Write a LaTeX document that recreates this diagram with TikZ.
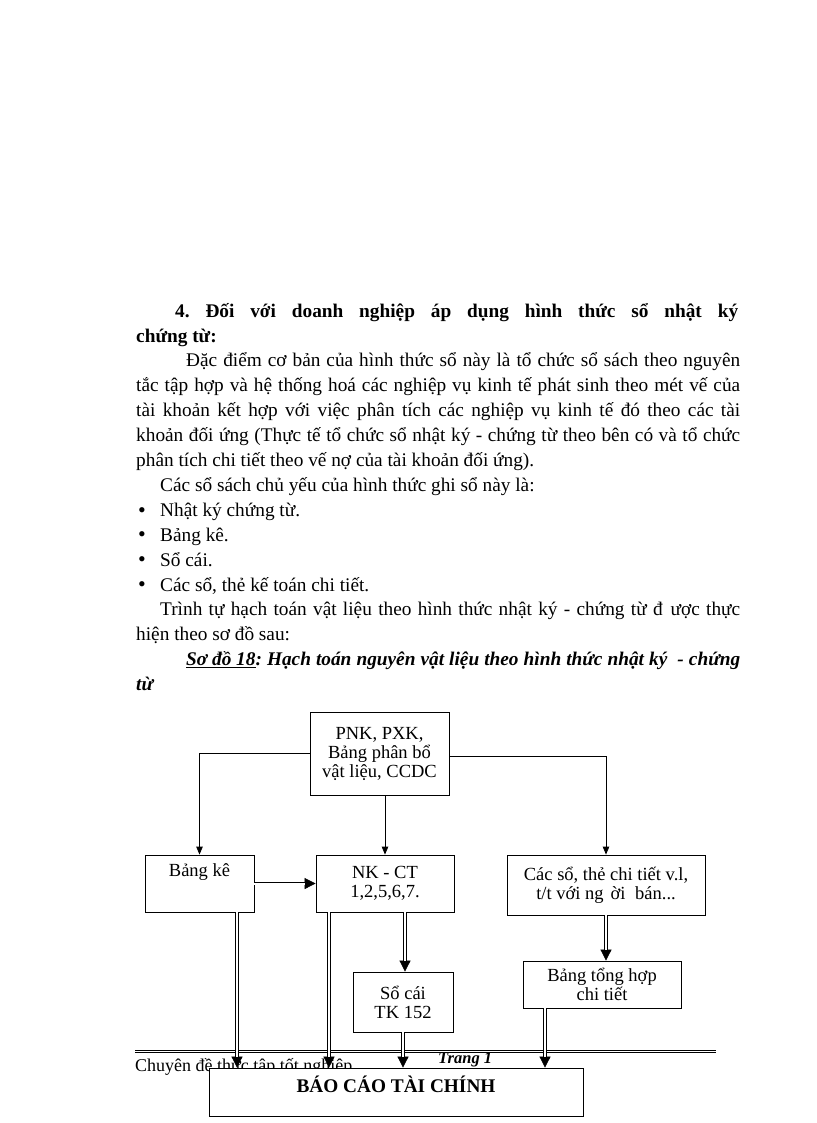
\documentclass[tikz,border=0pt]{standalone}
\usepackage{fontspec}
\setmainfont{Liberation Serif}
\usetikzlibrary{arrows.meta,calc}
\newcommand\bodyfont{\fontsize{19.3}{22}\selectfont}
\newcommand\boxfont{\fontsize{18.5}{19}\selectfont}
\frenchspacing
\tikzset{
  txt/.style={anchor=base west, inner sep=0pt, font=\bodyfont},
  boxnode/.style={draw, line width=0.8pt, fill=white, inner sep=0pt, align=center, font=\boxfont},
  arr/.style={line width=0.8pt, -{Triangle[length=8pt,width=6.5pt]}},
  darr/.style={line width=0.7pt, -{Triangle[length=11pt,width=11pt]},
    postaction={draw, -, line width=0.7pt, double, double distance=2pt, shorten >=10.5pt}},
}
\begin{document}
\begin{tikzpicture}[x=1pt,y=-1pt]
\useasboundingbox[fill=white] (0,0) rectangle (816,1123);

% ---- text ----
\node[txt, font=\bodyfont\bfseries] (h1) at (175,317) {\makebox[563pt][s]{4. Đối với doanh nghiệp áp dụng hình thức sổ nhật ký}};
\node[txt, font=\bodyfont\bfseries] (h2) at (136,342) {chứng từ:};
\node[txt] (p1) at (186,366.9) {\makebox[554pt][s]{Đặc điểm cơ bản của hình thức sổ này là tổ chức sổ sách theo nguyên}};
\node[txt] (p2) at (136,391.8) {\makebox[604pt][s]{tắc tập hợp và hệ thống hoá các nghiệp vụ kinh tế phát sinh theo mét vế của}};
\node[txt] (p3) at (136,416.7) {\makebox[604pt][s]{tài khoản kết hợp với việc phân tích các nghiệp vụ kinh tế đó theo các tài}};
\node[txt] (p4) at (136,441.6) {\makebox[604pt][s]{khoản đối ứng (Thực tế tổ chức sổ nhật ký - chứng từ theo bên có và tổ chức}};
\node[txt] (p5) at (136,466.5) {phân tích chi tiết theo vế nợ của tài khoản đối ứng).};
\node[txt] (p6) at (160,491.4) {Các sổ sách chủ yếu của hình thức ghi sổ này là:};
\node[txt, font=\fontsize{22}{22}\selectfont] (b1d) at (138,517) {•};
\node[txt] (b1) at (160,516.3) {Nhật ký chứng từ.};
\node[txt, font=\fontsize{22}{22}\selectfont] (b2d) at (138,541.9) {•};
\node[txt] (b2) at (160,541.2) {Bảng kê.};
\node[txt, font=\fontsize{22}{22}\selectfont] (b3d) at (138,566.8) {•};
\node[txt] (b3) at (160,566.1) {Sổ cái.};
\node[txt, font=\fontsize{22}{22}\selectfont] (b4d) at (138,591.7) {•};
\node[txt] (b4) at (160,591) {Các sổ, thẻ kế toán chi tiết.};
\node[txt] (p7) at (160,615.9) {\makebox[580pt][s]{Trình tự hạch toán vật liệu theo hình thức nhật ký - chứng từ đ\hspace{8pt}ược thực}};
\node[txt] (p8) at (136,640.8) {hiện theo sơ đồ sau:};
\node[txt, font=\bodyfont\bfseries\itshape] (c1) at (186,665.7) {\makebox[554pt][s]{\underline{Sơ đồ 18}: Hạch toán nguyên vật liệu theo hình thức nhật ký \ - chứng}};
\node[txt, font=\bodyfont\bfseries\itshape] (c2) at (136,690.6) {từ};

% ---- footer ----
\draw[line width=0.6pt] (135,1050) -- (716,1050);
\draw[line width=0.6pt] (135,1052.6) -- (716,1052.6);
\node[txt, font=\fontsize{18}{20}\selectfont] (foot) at (135,1071) {Chuyên đề thực tập tốt nghiệp};
\node[txt, font=\fontsize{16.5}{18}\selectfont\bfseries\itshape] (page) at (438,1063) {Trang 1};

% ---- boxes ----
\node[boxnode, minimum width=139pt, minimum height=83pt] (pnk) at (379.5,753.5) {PNK, PXK,\\Bảng phân bổ\\vật liệu, CCDC};
\node[boxnode, minimum width=109pt, minimum height=57pt, text height=13pt, text depth=28pt] (bk) at (199.5,883.5) {Bảng kê};
\node[boxnode, minimum width=138pt, minimum height=57pt] (nkct) at (385,883.5) {NK - CT\\1,2,5,6,7.};
\node[boxnode, minimum width=198pt, minimum height=60pt] (cacso) at (606,885) {Các sổ, thẻ chi tiết v.l,\\t/t với ng\hspace{7pt}ời\hspace{5pt} bán...};
\node[boxnode, minimum width=100pt, minimum height=60pt] (socai) at (403,1002) {Sổ cái\\TK 152};
\node[boxnode, minimum width=158pt, minimum height=47pt] (bth) at (602,984.5) {Bảng tổng hợp\\chi tiết};
\node[boxnode, minimum width=374pt, minimum height=48pt, text height=13pt, text depth=13pt, font=\fontsize{19.3}{19}\selectfont\bfseries] (bctc) at (396,1092) {BÁO CÁO TÀI CHÍNH};

% ---- connectors ----
\draw[arr] (pnk.west) -| (bk.north);
\draw[arr] ([yshift=-2.5pt]pnk.east) -| (cacso.north);
\draw[arr] (pnk.south -| nkct.north) -- (nkct.north);
\draw[darr] (bk.east) -- (nkct.west);
\draw[darr] ([xshift=37.5pt]bk.south) -- ([xshift=37.5pt]bk.south |- bctc.north);
\draw[darr] ([xshift=-56pt]nkct.south) -- ([xshift=-56pt]nkct.south |- bctc.north);
\draw[darr] ([xshift=20pt]nkct.south) -- ([xshift=20pt]nkct.south |- socai.north);
\draw[darr] (socai.south) -- (socai.south |- bctc.north);
\draw[darr] (cacso.south) -- (cacso.south |- bth.north);
\draw[darr] ([xshift=-57pt]bth.south) -- ([xshift=-57pt]bth.south |- bctc.north);
\end{tikzpicture}
\end{document}
